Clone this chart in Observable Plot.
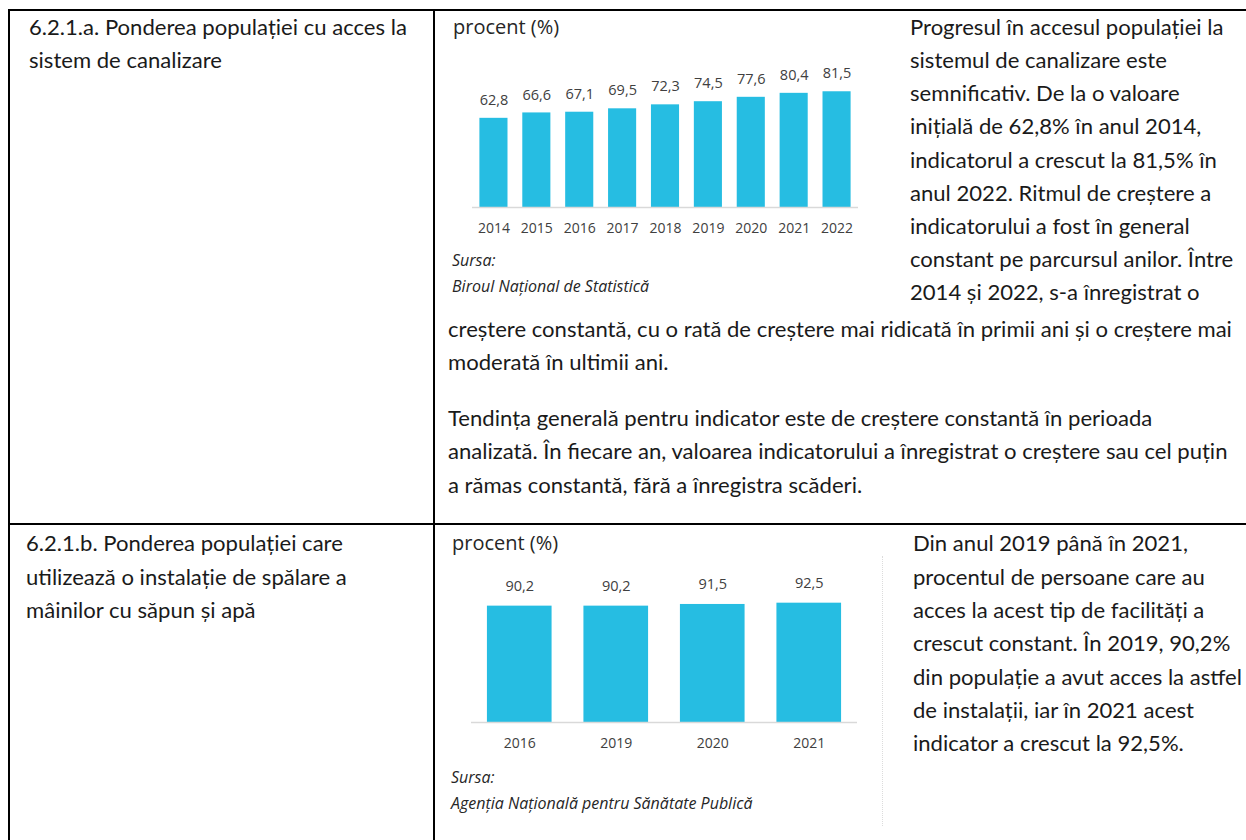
<!DOCTYPE html>
<html>
<head>
<meta charset="utf-8">
<script src="https://cdn.jsdelivr.net/npm/d3@7"></script>
<script src="https://cdn.jsdelivr.net/npm/@observablehq/plot@0.6"></script>
<style>
  html, body { margin: 0; padding: 0; background: #fff; }
  body { width: 1246px; height: 840px; position: relative; overflow: hidden; }
  .rule { position: absolute; background: #000; }
  .ln { position: absolute; white-space: nowrap; font-family: Lato, "Noto Sans", sans-serif; color: #1a1a1a; height: 24px; line-height: 24px; }
  .chart { position: absolute; }
  .unit { position: absolute; white-space: nowrap; font-family: "Open Sans", sans-serif; font-size: 20px; color: #262626; height: 26px; line-height: 26px; }
  .src { position: absolute; white-space: nowrap; font-family: "Open Sans", sans-serif; font-style: italic; font-size: 16px; color: #262626; height: 20px; line-height: 20px; }
  .dots { position: absolute; border-left: 1px dotted #dcdcdc; }
</style>
</head>
<body>
<div id="root"></div>
<script>
// ---- data ----
const years1 = ["2014", "2015", "2016", "2017", "2018", "2019", "2020", "2021", "2022"];
const values1 = [62.8, 66.6, 67.1, 69.5, 72.3, 74.5, 77.6, 80.4, 81.5];
const years2 = ["2016", "2019", "2020", "2021"];
const values2 = [90.2, 90.2, 91.5, 92.5];
const unitLabel = "procent (%)";
const source1 = ["Sursa:", "Biroul Național de Statistică"];
const source2 = ["Sursa:", "Agenția Națională pentru Sănătate Publică"];

const leftText1 = ["6.2.1.a. Ponderea populației cu acces la", "sistem de canalizare"];
const leftText2 = ["6.2.1.b. Ponderea populației care", "utilizează o instalație de spălare a", "mâinilor cu săpun și apă"];
const rightText1a = [
  "Progresul în accesul populației la",
  "sistemul de canalizare este",
  "semnificativ. De la o valoare",
  "inițială de 62,8% în anul 2014,",
  "indicatorul a crescut la 81,5% în",
  "anul 2022. Ritmul de creștere a",
  "indicatorului a fost în general",
  "constant pe parcursul anilor. Între",
  "2014 și 2022, s-a înregistrat o"
];
const rightText1b = [
  "creștere constantă, cu o rată de creștere mai ridicată în primii ani și o creștere mai",
  "moderată în ultimii ani."
];
const rightText1c = [
  "Tendința generală pentru indicator este de creștere constantă în perioada",
  "analizată. În fiecare an, valoarea indicatorului a înregistrat o creștere sau cel puțin",
  "a rămas constantă, fără a înregistra scăderi."
];
const rightText2 = [
  "Din anul 2019 până în 2021,",
  "procentul de persoane care au",
  "acces la acest tip de facilități a",
  "crescut constant. În 2019, 90,2%",
  "din populație a avut acces la astfel",
  "de instalații, iar în 2021 acest",
  "indicator a crescut la 92,5%."
];

const root = document.getElementById("root");
function el(cls, left, top, extra) {
  const d = document.createElement("div");
  d.className = cls;
  d.style.left = left + "px";
  d.style.top = top + "px";
  if (extra) Object.assign(d.style, extra);
  root.appendChild(d);
  return d;
}

// table rules
el("rule", 8, 9, {width: "1238px", height: "2px"});
el("rule", 8, 9, {width: "2px", height: "831px"});
el("rule", 433, 9, {width: "2px", height: "831px"});
el("rule", 8, 523, {width: "1238px", height: "2px"});
el("dots", 882, 556, {height: "270px"});

// fit body font size to the long reference line
const ctx = document.createElement("canvas").getContext("2d");
ctx.font = "100px Lato";
const fs = 100 * 784 / ctx.measureText(rightText1b[0]).width;

function lines(arr, x, ys) {
  arr.forEach((t, i) => {
    const d = el("ln", x, ys[i] - 12, {fontSize: fs + "px"});
    d.textContent = t;
  });
}
lines(leftText1, 29, [27, 60]);
lines(leftText2, 26, [543, 577, 610]);
lines(rightText1a, 910, [27, 60, 93, 126, 160, 193, 226, 259, 292]);
lines(rightText1b, 448, [329, 362]);
lines(rightText1c, 448, [418, 451, 485]);
lines(rightText2, 913, [543, 577, 610, 643, 677, 710, 743]);

// charts
function fmt(v) { return v.toFixed(1).replace(".", ","); }
function barChart(years, values, opts) {
  const data = years.map((y, i) => ({year: y, value: values[i]}));
  return Plot.plot({
    width: 450,
    height: opts.height,
    marginTop: opts.marginTop,
    marginBottom: 35,
    marginLeft: opts.marginLeft,
    marginRight: opts.marginRight,
    style: {fontFamily: "Open Sans", fontSize: "14px", color: "#404040", background: "transparent"},
    x: {domain: years, paddingInner: opts.pi, paddingOuter: opts.pi / 2, round: false, label: null},
    y: {domain: [0, 100], axis: null},
    marks: [
      Plot.barY(data, {x: "year", y: "value", fill: "#26bde2"}),
      Plot.ruleY([0], {stroke: "#d9d9d9", strokeWidth: 1.5}),
      Plot.axisX({tickSize: 0, tickPadding: 16, fontSize: 14, fill: "#404040", label: null}),
      Plot.text(data, {x: "year", y: "value", text: d => fmt(d.value), dy: opts.dy, fill: "#404040", fontSize: 14.5})
    ]
  });
}

const c1 = barChart(years1, values1, {height: 202, marginTop: 25, marginLeft: 32, marginRight: 32, pi: 0.345, dy: -18});
const w1 = el("chart", 440, 40); w1.appendChild(c1);
const c2 = barChart(years2, values2, {height: 197, marginTop: 33, marginLeft: 31, marginRight: 33, pi: 0.33, dy: -20});
const w2 = el("chart", 440, 560); w2.appendChild(c2);

el("unit", 453, 14).textContent = unitLabel;
el("unit", 452, 530).textContent = unitLabel;
el("src", 452, 250).textContent = source1[0];
el("src", 452, 276).textContent = source1[1];
el("src", 451, 767).textContent = source2[0];
el("src", 451, 793).textContent = source2[1];
</script>
</body>
</html>
